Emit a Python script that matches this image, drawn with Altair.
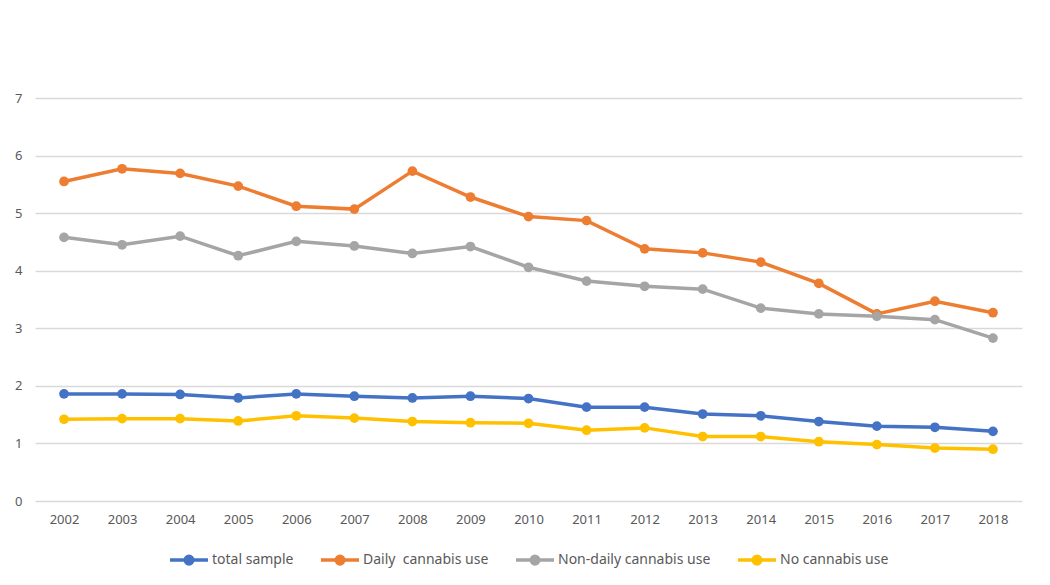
import altair as alt
import pandas as pd

years = [str(y) for y in range(2002, 2019)]
total_sample = [1.86, 1.86, 1.85, 1.79, 1.86, 1.82, 1.79, 1.82, 1.78, 1.63, 1.63, 1.51, 1.48, 1.38, 1.30, 1.28, 1.21]
daily_use = [5.55, 5.77, 5.69, 5.47, 5.12, 5.07, 5.73, 5.28, 4.94, 4.87, 4.38, 4.31, 4.15, 3.78, 3.25, 3.47, 3.27]
non_daily_use = [4.58, 4.45, 4.60, 4.26, 4.51, 4.43, 4.30, 4.42, 4.06, 3.82, 3.73, 3.68, 3.35, 3.25, 3.21, 3.15, 2.83]
no_use = [1.42, 1.43, 1.43, 1.39, 1.48, 1.44, 1.38, 1.36, 1.35, 1.23, 1.27, 1.12, 1.12, 1.03, 0.98, 0.92, 0.90]

series_names = ["total sample", "Daily\u00a0 cannabis use", "Non-daily cannabis use", "No cannabis use"]
series_values = [total_sample, daily_use, non_daily_use, no_use]
colors = ["#4472C4", "#ED7D31", "#A5A5A5", "#FFC000"]

rows = []
for name, vals in zip(series_names, series_values):
    for y, v in zip(years, vals):
        rows.append({"year": y, "value": v, "series": name})
df = pd.DataFrame(rows)

font = "Noto Sans"
legend_symbol = "M -1 0 L -0.2 0 M 0.2 0 L 1 0 M -0.2 0 A 0.2 0.2 0 1 1 0.2 0 A 0.2 0.2 0 1 1 -0.2 0 Z"

chart = alt.Chart(df).mark_line(
    strokeWidth=3.5,
    point=alt.OverlayMarkDef(filled=True, size=95, opacity=1),
).encode(
    x=alt.X("year:O", title=None, sort=years,
            scale=alt.Scale(type="point", padding=0.5),
            axis=alt.Axis(labelAngle=0, ticks=False, domain=False, grid=False,
                          labelColor="#595959", labelFont=font, labelFontSize=13,
                          labelPadding=12)),
    y=alt.Y("value:Q", title=None,
            scale=alt.Scale(domain=[0, 7], nice=False, zero=True),
            axis=alt.Axis(values=[0, 1, 2, 3, 4, 5, 6, 7], ticks=False, domain=False,
                          gridColor="#D9D9D9", gridWidth=1.3,
                          labelColor="#595959", labelFont=font, labelFontSize=13,
                          labelPadding=13, format="d")),
    color=alt.Color("series:N", sort=series_names,
                    scale=alt.Scale(domain=series_names, range=colors),
                    legend=alt.Legend(title=None, orient="none", direction="horizontal",
                                      legendX=133, legendY=441,
                                      symbolType=legend_symbol, symbolSize=1444,
                                      symbolStrokeWidth=3.5, symbolFillColor="transparent",
                                      labelFont=font, labelFontSize=14, labelColor="#595959",
                                      columnPadding=20, labelOffset=2)),
).properties(
    width=987,
    height=403,
    padding={"left": 27, "top": 90, "right": 18, "bottom": 76},
    autosize=alt.AutoSizeParams(type="none"),
).configure(background="white").configure_view(stroke=None, strokeWidth=0)

chart.save("out.html", embed_options={"renderer": "svg", "actions": False})
